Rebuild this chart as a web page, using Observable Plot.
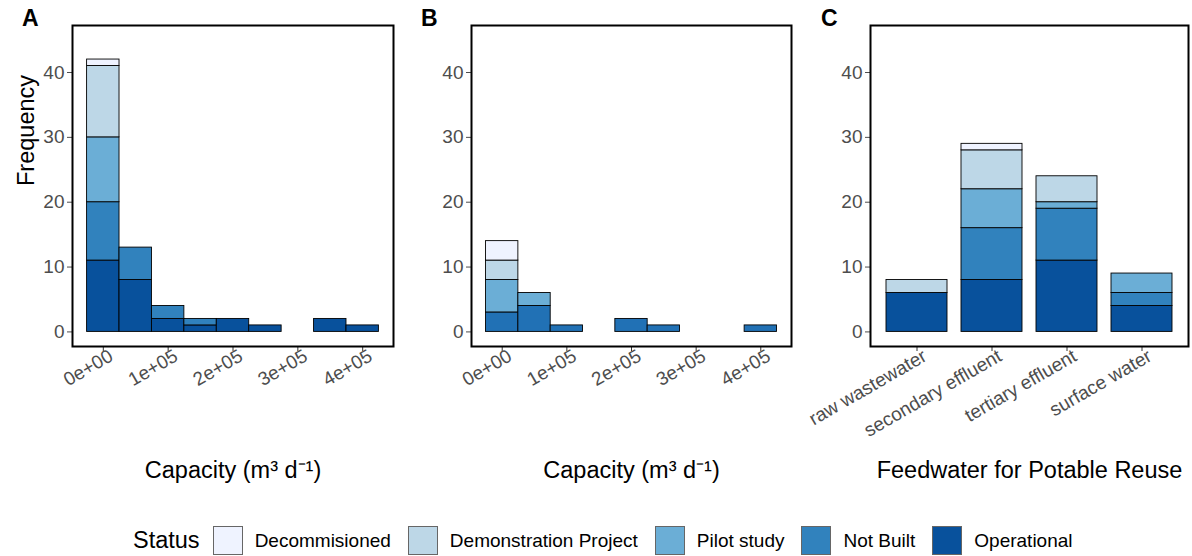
<!DOCTYPE html>
<html>
<head>
<meta charset="utf-8">
<script src="https://cdn.jsdelivr.net/npm/d3@7"></script>
<script src="https://cdn.jsdelivr.net/npm/@observablehq/plot@0.6"></script>
<style>
  body { margin: 0; background: #fff; }
  #root { position: relative; width: 1192px; height: 556px; background: #fff; font-family: "Liberation Sans", Arial, sans-serif; overflow: hidden; }
  .panel { position: absolute; top: 0; }
  .tag { position: absolute; font-weight: bold; font-size: 23px; line-height: 23px; color: #000; }
  #legend { position: absolute; left: 133px; top: 525px; height: 31px; display: flex; align-items: center; white-space: nowrap; color: #000; }
  #legend .title { font-size: 23.5px; margin-right: 13px; }
  #legend .key { width: 30px; height: 29px; box-sizing: border-box; border: 1px solid #666; margin-right: 12px; }
  #legend .lab { font-size: 19px; margin-right: 17px; }
</style>
</head>
<body>
<div id="root">
  <div class="tag" style="left:22px;top:7px">A</div>
  <div class="tag" style="left:421px;top:7px">B</div>
  <div class="tag" style="left:821px;top:7px">C</div>
  <div id="pA" class="panel" style="left:0px"></div>
  <div id="pB" class="panel" style="left:400px"></div>
  <div id="pC" class="panel" style="left:800px"></div>
  <div id="legend"></div>
</div>
<script>
// ---- categories / palettes ----
const statuses = ["Decommisioned", "Demonstration Project", "Pilot study", "Not Built", "Operational"];
const blues5 = ["#eff3ff", "#bdd7e7", "#6baed6", "#3182bd", "#08519c"];
const statusesB = ["Decommisioned", "Demonstration Project", "Pilot study", "Operational"];
const blues4 = ["#eff3ff", "#bdd7e7", "#6baed6", "#2171b5"];

// ---- histogram bins (capacity, m3/d) ----
const binCenters = [0, 50000, 100000, 150000, 200000, 250000, 300000, 350000, 400000];
const binWidth = 50000;
const capTicks = [0, 100000, 200000, 300000, 400000];
const capTickLabels = ["0e+00", "1e+05", "2e+05", "3e+05", "4e+05"];
const yTicks = [0, 10, 20, 30, 40];

// ---- Panel A counts per bin ----
const aOperational = [11, 8, 2, 1, 2, 1, 0, 2, 1];
const aNotBuilt    = [9, 5, 2, 1, 0, 0, 0, 0, 0];
const aPilot       = [10, 0, 0, 0, 0, 0, 0, 0, 0];
const aDemo        = [11, 0, 0, 0, 0, 0, 0, 0, 0];
const aDecomm      = [1, 0, 0, 0, 0, 0, 0, 0, 0];

// ---- Panel B counts per bin ----
const bOperational = [3, 4, 1, 0, 2, 1, 0, 0, 1];
const bPilot       = [5, 2, 0, 0, 0, 0, 0, 0, 0];
const bDemo        = [3, 0, 0, 0, 0, 0, 0, 0, 0];
const bDecomm      = [3, 0, 0, 0, 0, 0, 0, 0, 0];

// ---- Panel C counts per feedwater ----
const feedwater    = ["raw wastewater", "secondary effluent", "tertiary effluent", "surface water"];
const cOperational = [6, 8, 11, 4];
const cNotBuilt    = [0, 8, 8, 2];
const cPilot       = [0, 6, 1, 3];
const cDemo        = [2, 6, 4, 0];
const cDecomm      = [0, 1, 0, 0];

const capTitle = "Capacity (m\u00B3 d\u207B\u00B9)";
const feedTitle = "Feedwater for Potable Reuse";

// build tidy rows, bottom-of-stack first
function histRows(series) {
  const rows = [];
  binCenters.forEach((c, i) => {
    for (const [status, arr] of series) {
      rows.push({x1: c - binWidth / 2, x2: c + binWidth / 2, count: arr[i], status});
    }
  });
  return rows;
}
const rowsA = histRows([["Operational", aOperational], ["Not Built", aNotBuilt], ["Pilot study", aPilot], ["Demonstration Project", aDemo], ["Decommisioned", aDecomm]]);
const rowsB = histRows([["Operational", bOperational], ["Pilot study", bPilot], ["Demonstration Project", bDemo], ["Decommisioned", bDecomm]]);
const rowsC = [];
feedwater.forEach((f, i) => {
  for (const [status, arr] of [["Operational", cOperational], ["Not Built", cNotBuilt], ["Pilot study", cPilot], ["Demonstration Project", cDemo], ["Decommisioned", cDecomm]]) {
    if (arr[i] > 0) rowsC.push({feed: f, count: arr[i], status});
  }
});

const font = "'Liberation Sans', Arial, sans-serif";
const H = 500, MT = 25, MB = 154;
const yDomain = [-2.25, 47.25];

function yAxis() {
  return Plot.axisY({ticks: yTicks, tickSize: 5, tickPadding: 3, fontSize: 19, color: "#4d4d4d", label: null});
}
function xAxes(extra) {
  return [
    Plot.axisX({...extra, tickFormat: () => "", tickSize: 5, stroke: "#333", label: null}),
    Plot.axisX({...extra, tickSize: 0, tickPadding: 8, tickRotate: -30, dx: 8, fontSize: 19, fill: "#4d4d4d", label: null})
  ];
}
function frame() { return Plot.frame({stroke: "#000", strokeWidth: 2}); }
function xTitle(t) {
  return Plot.text([t], {text: d => d, frameAnchor: "bottom", dy: 124, fontSize: 23.5, fill: "#000", lineAnchor: "middle"});
}

function histPlot(rows, domain, range, opts) {
  return Plot.plot({
    width: 400, height: H,
    marginLeft: opts.ml, marginRight: opts.mr, marginTop: MT, marginBottom: MB,
    style: {fontFamily: font, background: "transparent", overflow: "visible"},
    x: {domain: [-47500, 447500]},
    y: {domain: yDomain},
    color: {type: "ordinal", domain, range},
    marks: [
      Plot.rectY(rows, {x1: "x1", x2: "x2", y: "count", fill: "status", stroke: "#000", strokeWidth: 0.9}),
      ...xAxes({ticks: capTicks, tickFormat: d => capTickLabels[capTicks.indexOf(d)]}),
      yAxis(),
      xTitle(capTitle),
      ...(opts.ylab ? [Plot.text(["Frequency"], {text: d => d, frameAnchor: "left", dx: -46, rotate: -90, fontSize: 23.5, fill: "#000"})] : []),
      frame()
    ]
  });
}

document.getElementById("pA").append(histPlot(rowsA, statuses, blues5, {ml: 72, mr: 7, ylab: true}));
document.getElementById("pB").append(histPlot(rowsB, statusesB, blues4, {ml: 71, mr: 9, ylab: false}));

document.getElementById("pC").append(Plot.plot({
  width: 392, height: H,
  marginLeft: 70, marginRight: 4, marginTop: MT, marginBottom: MB,
  style: {fontFamily: font, background: "transparent", overflow: "visible"},
  x: {type: "band", domain: feedwater, paddingInner: 0.19, paddingOuter: 0.2},
  y: {domain: yDomain},
  color: {type: "ordinal", domain: statuses, range: blues5},
  marks: [
    Plot.barY(rowsC, {x: "feed", y: "count", fill: "status", stroke: "#000", strokeWidth: 0.9}),
    ...xAxes({}),
    yAxis(),
    xTitle(feedTitle),
    frame()
  ]
}));

// legend
const legend = document.getElementById("legend");
const t = document.createElement("span");
t.className = "title"; t.textContent = "Status";
legend.append(t);
statuses.forEach((s, i) => {
  const k = document.createElement("div");
  k.className = "key"; k.style.background = blues5[i];
  const l = document.createElement("span");
  l.className = "lab"; l.textContent = s;
  legend.append(k, l);
});
</script>
</body>
</html>
